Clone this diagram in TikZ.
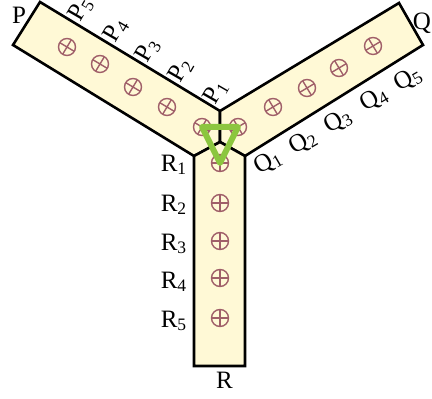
\documentclass[tikz,border=0pt]{standalone}
\usepackage{fontspec}
\setmainfont{Liberation Serif}
\usepackage{tikz}
\usetikzlibrary{calc}

\definecolor{armfill}{RGB}{255,249,214}
\definecolor{cellcol}{RGB}{160,95,105}
\definecolor{trigreen}{RGB}{140,198,63}

\tikzset{
  arm/.style={draw=black, line width=1.3pt, fill=armfill},
  cell/.style={draw=cellcol, line width=0.7pt},
  tri/.style={draw=trigreen, line width=3pt, line join=round},
  lbl/.style={inner sep=0pt, font=\fontsize{12.5}{15}\selectfont}
}

\begin{document}
\begin{tikzpicture}[x=0.5pt, y=-0.5pt]
    \useasboundingbox (0,0) rectangle (432,399);

    % junction of the three arms
    \coordinate (cen) at (220,142);
    \coordinate (top) at (220,111);
    \coordinate (lft) at (194,156);
    \coordinate (rgt) at (245,156);

    \filldraw [arm] (top) -- (40,2) -- (13,45) -- (lft) -- (cen) -- cycle;
    \filldraw [arm] (top) -- (399,3) -- (423,45) -- (rgt) -- (cen) -- cycle;
    \filldraw [arm] (lft) -- (194,366) -- (245,366) -- (rgt) -- (cen) -- cycle;

    % cells along each arm
    \foreach \i/\x/\y in {1/202/127, 2/167/107, 3/133/87, 4/100/64, 5/67/47} {
        \coordinate (p\i) at (\x,\y);
        \draw [cell] (p\i) circle (8.5);
        \draw [cell] (p\i) ++(31:8.5) -- ++(211:17) (p\i) ++(121:8.5) -- ++(301:17);
    }
    \foreach \i/\x/\y in {1/238/127, 2/273/107, 3/307/88, 4/339/68, 5/373/46} {
        \coordinate (q\i) at (\x,\y);
        \draw [cell] (q\i) circle (8.5);
        \draw [cell] (q\i) ++(-31:8.5) -- ++(149:17) (q\i) ++(59:8.5) -- ++(239:17);
    }
    \foreach \i/\y in {1/163, 2/203, 3/241, 4/278, 5/318} {
        \coordinate (r\i) at (220,\y);
        \draw [cell] (r\i) circle (8.5);
        \draw [cell] (r\i) ++(0:8.5) -- ++(180:17) (r\i) ++(90:8.5) -- ++(270:17);
    }

    \draw [tri] (p1) -- (q1) -- (r1) -- cycle;

    % labels
    \foreach \i/\x/\y in {1/216/92, 2/181/70, 3/148/50, 4/116/30, 5/81/9}
        \node [lbl, rotate=60] (lp\i) at (\x,\y) {P\textsubscript{\i}};
    \foreach \i/\x/\y in {1/268/162, 2/303/142, 3/338/121, 4/374/99, 5/408/79}
        \node [lbl, rotate=30] (lq\i) at (\x,\y) {Q\textsubscript{\i}};
    \foreach \i/\y in {1/165, 2/205, 3/244, 4/282, 5/321}
        \node [lbl] (lr\i) at (174,\y) {R\textsubscript{\i}};

    \node [lbl] (endP) at (19,15.5) {P};
    \node [lbl] (endQ) at (422,23) {Q};
    \node [lbl] (endR) at (224.5,380.5) {R};
\end{tikzpicture}
\end{document}
